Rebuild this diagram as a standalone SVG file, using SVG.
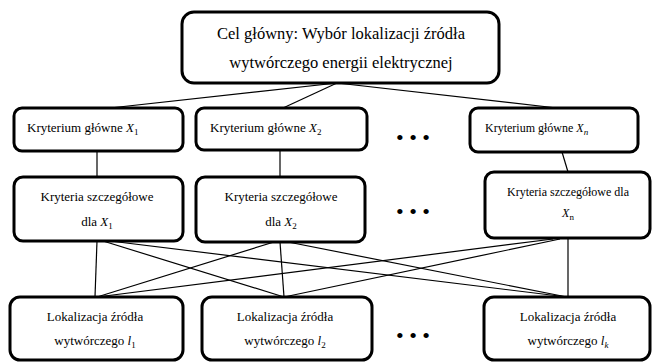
<svg xmlns="http://www.w3.org/2000/svg" width="652" height="363" viewBox="0 0 652 363">
<style>
.box{fill:#fff;stroke:#000;stroke-width:3}
.big{font-size:16.5px}
.mid{font-size:13px}
.sm{font-size:12px}
.c{text-anchor:middle}
.i{font-style:italic}
.sub{font-size:9px}
.dots{font-size:22px;text-anchor:middle}
#connectors line{stroke:#000;stroke-width:1.2}
</style>
<rect width="652" height="363" fill="#fff"/>
<g id="connectors">
<line x1="337" y1="83" x2="110" y2="108"/>
<line x1="337" y1="83" x2="283" y2="108"/>
<line x1="337" y1="83" x2="557" y2="108"/>
<line x1="97" y1="151" x2="97" y2="177"/>
<line x1="280" y1="150" x2="280" y2="177"/>
<line x1="562" y1="152" x2="568" y2="172"/>
<line x1="97" y1="241" x2="95" y2="297"/>
<line x1="103" y1="241" x2="284" y2="297"/>
<line x1="110" y1="241" x2="567" y2="297"/>
<line x1="274" y1="242" x2="97" y2="297"/>
<line x1="280" y1="242" x2="284" y2="297"/>
<line x1="288" y1="242" x2="567" y2="297"/>
<line x1="553" y1="239" x2="97" y2="297"/>
<line x1="560" y1="239" x2="284" y2="297"/>
<line x1="568" y1="238" x2="568" y2="297"/>
</g>
<g font-family="Liberation Serif, Times New Roman, serif" fill="#000">
<g id="goal">
<rect class="box" x="182" y="12" width="317" height="71" rx="12"/>
<text class="big c" x="341" y="39">Cel główny: Wybór lokalizacji źródła</text>
<text class="big c" x="341" y="68">wytwórczego energii elektrycznej</text>
</g>
<g id="k1">
<rect class="box" x="14" y="108" width="169" height="43" rx="8"/>
<text class="mid" x="27" y="132">Kryterium główne <tspan class="i">X</tspan><tspan class="sub" dy="3">1</tspan></text>
</g>
<g id="k2">
<rect class="box" x="196" y="108" width="171" height="42" rx="8"/>
<text class="mid" x="210" y="132">Kryterium główne <tspan class="i">X</tspan><tspan class="sub" dy="3">2</tspan></text>
</g>
<g id="dots1"><text class="dots" x="413" y="145">• • •</text></g>
<g id="kn">
<rect class="box" x="470" y="108" width="168" height="44" rx="8"/>
<text class="sm" x="485" y="132">Kryterium główne <tspan class="i">X</tspan><tspan class="sub i" dy="3">n</tspan></text>
</g>
<g id="s1">
<rect class="box" x="14" y="177" width="169" height="64" rx="9"/>
<text class="mid c" x="97" y="201">Kryteria szczegółowe</text>
<text class="mid c" x="97" y="226">dla <tspan class="i">X</tspan><tspan class="sub" dy="3">1</tspan></text>
</g>
<g id="s2">
<rect class="box" x="196" y="177" width="169" height="65" rx="9"/>
<text class="mid c" x="281" y="201">Kryteria szczegółowe</text>
<text class="mid c" x="281" y="226">dla <tspan class="i">X</tspan><tspan class="sub" dy="3">2</tspan></text>
</g>
<g id="dots2"><text class="dots" x="413" y="219">• • •</text></g>
<g id="sn">
<rect class="box" x="485" y="172" width="165" height="66" rx="9"/>
<text class="sm c" x="568" y="196">Kryteria szczegółowe dla</text>
<text class="sm c" x="568" y="217"><tspan class="i">X</tspan><tspan class="sub" dy="3">n</tspan></text>
</g>
<g id="l1">
<rect class="box" x="10" y="297" width="173" height="63" rx="10"/>
<text class="mid c" x="95" y="321">Lokalizacja źródła</text>
<text class="mid c" x="95" y="345">wytwórczego <tspan class="i">l</tspan><tspan class="sub" dy="3">1</tspan></text>
</g>
<g id="l2">
<rect class="box" x="202" y="297" width="170" height="63" rx="10"/>
<text class="mid c" x="285" y="321">Lokalizacja źródła</text>
<text class="mid c" x="285" y="345">wytwórczego <tspan class="i">l</tspan><tspan class="sub" dy="3">2</tspan></text>
</g>
<g id="dots3"><text class="dots" x="413" y="343">• • •</text></g>
<g id="lk">
<rect class="box" x="484" y="297" width="166" height="63" rx="10"/>
<text class="mid c" x="568" y="321">Lokalizacja źródła</text>
<text class="mid c" x="568" y="345">wytwórczego <tspan class="i">l</tspan><tspan class="sub i" dy="3">k</tspan></text>
</g>
</g>
</svg>
